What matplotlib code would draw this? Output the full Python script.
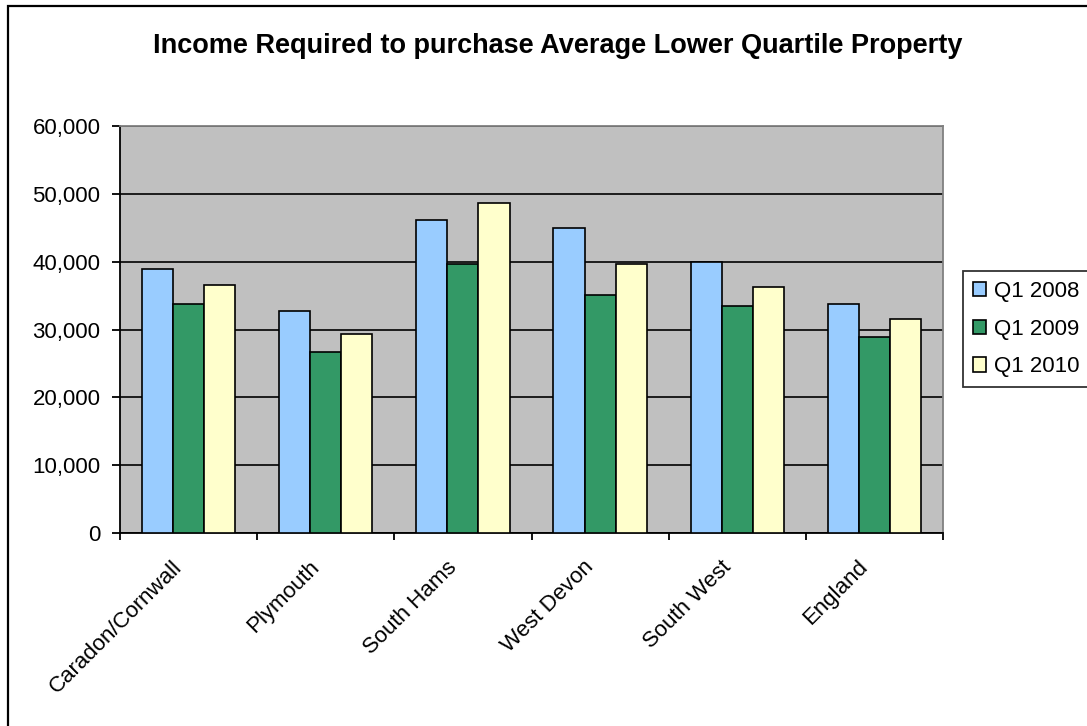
import matplotlib
matplotlib.use("Agg")
import matplotlib.pyplot as plt
from matplotlib.patches import Rectangle
from matplotlib.ticker import FuncFormatter, FixedLocator
from matplotlib.transforms import ScaledTranslation
import numpy as np

plt.rcParams['font.family'] = ['Liberation Sans', 'DejaVu Sans']

categories = ["Caradon/Cornwall", "Plymouth", "South Hams", "West Devon", "South West", "England"]
series_labels = ["Q1 2008", "Q1 2009", "Q1 2010"]
q1_2008 = [38900, 32700, 46200, 44900, 40000, 33800]
q1_2009 = [33800, 26700, 39700, 35100, 33500, 28900]
q1_2010 = [36500, 29400, 48600, 39700, 36200, 31600]
colors = ["#99CCFF", "#339966", "#FFFFCC"]
title = "Income Required to purchase Average Lower Quartile Property"

W, H = 1087, 726
fig = plt.figure(figsize=(W / 100, H / 100), dpi=100)
fig.patch.set_facecolor("white")

# outer chart border
fig.patches.append(Rectangle((8 / W, -0.05), 1.1, 1 - 6 / H + 0.05,
                             transform=fig.transFigure, fill=False,
                             edgecolor="black", linewidth=1.6, zorder=0))

left, right, top, bottom = 120, 943, 126, 533
ax = fig.add_axes([left / W, 1 - bottom / H, (right - left) / W, (bottom - top) / H])
ax.set_facecolor("#C0C0C0")

x = np.arange(len(categories))
w = 0.227
series = [q1_2008, q1_2009, q1_2010]
for i, (vals, lab, col) in enumerate(zip(series, series_labels, colors)):
    ax.bar(x + (i - 1) * w, vals, width=w, color=col, edgecolor="black",
           linewidth=1.2, label=lab, zorder=3)

ax.set_xlim(-0.5, len(categories) - 0.5)
ax.set_ylim(0, 60000)
ax.set_yticks(np.arange(0, 60001, 10000))
ax.yaxis.set_major_formatter(FuncFormatter(lambda v, p: f"{int(v):,}"))
ax.yaxis.grid(True, color="black", linewidth=1.2, zorder=1)
ax.set_axisbelow(True)

# category boundaries carry the tick marks; labels sit at centres
ax.xaxis.set_major_locator(FixedLocator(np.arange(-0.5, len(categories), 1.0)))
ax.xaxis.set_major_formatter(FuncFormatter(lambda v, p: ""))
ax.xaxis.set_minor_locator(FixedLocator(x))
ax.set_xticklabels(categories, minor=True, rotation=45, ha="right",
                   rotation_mode="anchor", fontsize=16)
ax.tick_params(axis="x", which="minor", length=0, pad=17)
ax.tick_params(axis="x", which="major", length=5, width=1.3, direction="out")
ax.tick_params(axis="y", length=5.5, width=1.3, direction="out", labelsize=16, pad=8.5)
shift = ScaledTranslation(-17 / 100, 0, fig.dpi_scale_trans)
for lbl in ax.get_xticklabels(minor=True):
    lbl.set_transform(lbl.get_transform() + shift)

for s in ["left", "bottom"]:
    ax.spines[s].set_color("black")
    ax.spines[s].set_linewidth(1.3)
for s in ["top", "right"]:
    ax.spines[s].set_color("#808080")
    ax.spines[s].set_linewidth(1.3)

fig.text(0.5 * (147 + 968) / W, 1 - 46 / H, title, ha="center", va="center",
         fontsize=19.5, fontweight="bold")

leg = fig.legend(loc="upper left", bbox_to_anchor=(963 / W, 1 - 271 / H),
                 fontsize=16, frameon=True, fancybox=False, edgecolor="black",
                 handlelength=0.6, handleheight=0.6, handletextpad=0.35,
                 labelspacing=0.75, borderpad=0.45, borderaxespad=0)
leg.get_frame().set_linewidth(1.3)

fig.savefig("out.png", dpi=100, facecolor="white")
